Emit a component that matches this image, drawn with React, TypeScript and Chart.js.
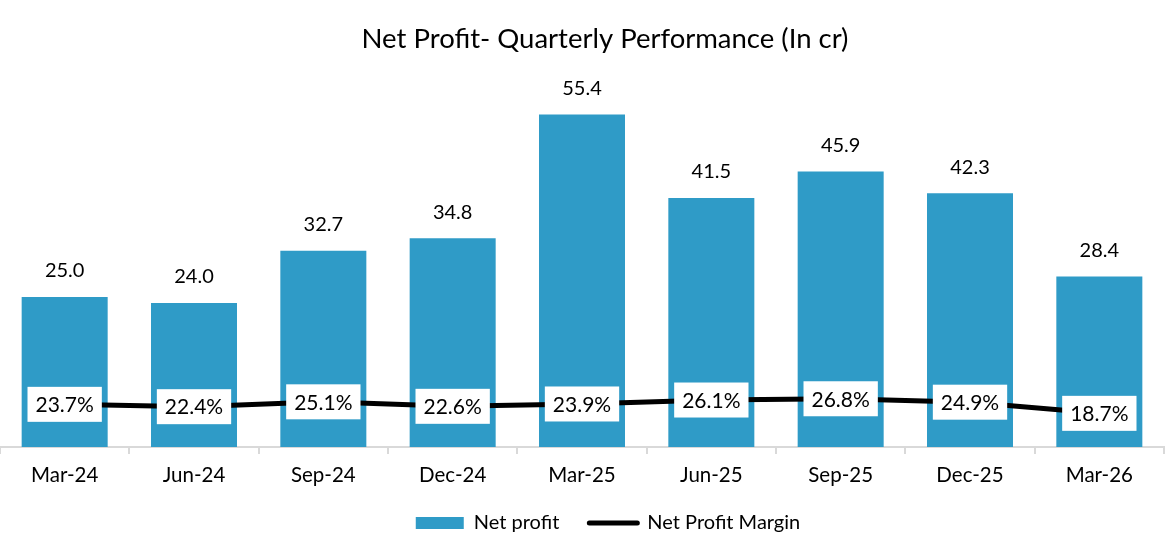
import { useEffect, useRef } from 'react';
import { Chart, registerables } from 'chart.js';

Chart.register(...registerables);

const QUARTERS = ['Mar-24', 'Jun-24', 'Sep-24', 'Dec-24', 'Mar-25', 'Jun-25', 'Sep-25', 'Dec-25', 'Mar-26'];
const NET_PROFIT = [25.0, 24.0, 32.7, 34.8, 55.4, 41.5, 45.9, 42.3, 28.4];
const NET_MARGIN = [23.7, 22.4, 25.1, 22.6, 23.9, 26.1, 26.8, 24.9, 18.7];

const BAR_COLOR = '#2F9BC7';
const FONT = 'Lato, "Open Sans", sans-serif';

// value labels: plain text above the bars, white boxes on the margin line
const valueLabels = {
  id: 'valueLabels',
  afterLayout(chart: any) {
    // title and legend sit a little right of centre in the original
    if (chart.titleBlock) {
      chart.titleBlock.left += 23;
      chart.titleBlock.right += 23;
    }
    if (chart.legend) {
      chart.legend.left += 26;
      chart.legend.right += 26;
      chart.legend.top -= 3;
      chart.legend.bottom -= 3;
    }
  },
  afterDatasetsDraw(chart: Chart) {
    const ctx = chart.ctx;
    ctx.save();
    ctx.textAlign = 'center';
    ctx.textBaseline = 'middle';

    const barMeta = chart.getDatasetMeta(1);
    ctx.font = `20px ${FONT}`;
    ctx.fillStyle = '#000';
    barMeta.data.forEach((el: any, i) => {
      ctx.fillText(NET_PROFIT[i].toFixed(1), el.x, el.y - 26);
    });

    const lineMeta = chart.getDatasetMeta(0);
    ctx.font = `21px ${FONT}`;
    lineMeta.data.forEach((el: any, i) => {
      const txt = NET_MARGIN[i].toFixed(1) + '%';
      const w = ctx.measureText(txt).width + 16;
      const h = 35;
      ctx.fillStyle = '#fff';
      ctx.fillRect(el.x - w / 2, el.y - h / 2, w, h);
      ctx.fillStyle = '#000';
      ctx.fillText(txt, el.x, el.y + 1);
    });
    ctx.restore();
  },
};

export default function App() {
  const canvasRef = useRef<HTMLCanvasElement>(null);
  const chartRef = useRef<Chart | null>(null);

  useEffect(() => {
    document.body.style.margin = '0';
    if (!canvasRef.current) return;
    if (chartRef.current) chartRef.current.destroy();

    chartRef.current = new Chart(canvasRef.current, {
      type: 'bar',
      data: {
        labels: QUARTERS,
        datasets: [
          {
            type: 'line',
            label: 'Net Profit Margin',
            data: NET_MARGIN,
            yAxisID: 'y1',
            borderColor: '#000',
            backgroundColor: '#000',
            borderWidth: 5,
            pointRadius: 0,
            tension: 0,
            order: 1,
          },
          {
            type: 'bar',
            label: 'Net profit',
            data: NET_PROFIT,
            yAxisID: 'y',
            backgroundColor: BAR_COLOR,
            categoryPercentage: 1,
            barPercentage: 0.665,
            order: 2,
          },
        ] as any,
      },
      options: {
        responsive: true,
        maintainAspectRatio: false,
        animation: false,
        layout: { padding: { left: 0, right: 9, top: 0, bottom: 1 } },
        scales: {
          x: {
            offset: true,
            afterFit: (scale: any) => { scale.height = 39; },
            grid: {
              offset: true,
              drawOnChartArea: false,
              tickLength: 7,
              color: '#d9d9d9',
              lineWidth: 2,
            },
            border: { display: true, color: '#d9d9d9', width: 2 },
            ticks: { color: '#000', padding: 9, font: { family: FONT, size: 20.5 } },
          },
          y: { display: false, min: 0, max: 60 },
          y1: { display: false, min: 0, max: 200, position: 'right' },
        },
        plugins: {
          title: {
            display: true,
            text: 'Net Profit- Quarterly Performance (In cr)',
            color: '#000',
            font: { family: FONT, size: 27.5, weight: 'normal' },
            padding: { top: 22.5, bottom: 31.5 },
          },
          legend: {
            position: 'bottom',
            labels: {
              usePointStyle: true,
              pointStyleWidth: 48,
              boxHeight: 12,
              padding: 30,
              color: '#000',
              font: { family: FONT, size: 20 },
              generateLabels: () => [
                {
                  text: 'Net profit',
                  fillStyle: BAR_COLOR,
                  strokeStyle: BAR_COLOR,
                  lineWidth: 0,
                  pointStyle: 'rect',
                  datasetIndex: 1,
                  hidden: false,
                },
                {
                  text: 'Net Profit Margin',
                  fillStyle: '#000',
                  strokeStyle: '#000',
                  lineWidth: 5,
                  lineCap: 'round',
                  pointStyle: 'line',
                  datasetIndex: 0,
                  hidden: false,
                },
              ] as any,
            },
          },
          tooltip: { enabled: false },
        },
      },
      plugins: [valueLabels],
    });

    return () => {
      if (chartRef.current) { chartRef.current.destroy(); chartRef.current = null; }
    };
  }, []);

  return (
    <div style={{ width: 1173, height: 547, position: 'relative', background: '#fff' }}>
      <canvas ref={canvasRef} />
    </div>
  );
}
